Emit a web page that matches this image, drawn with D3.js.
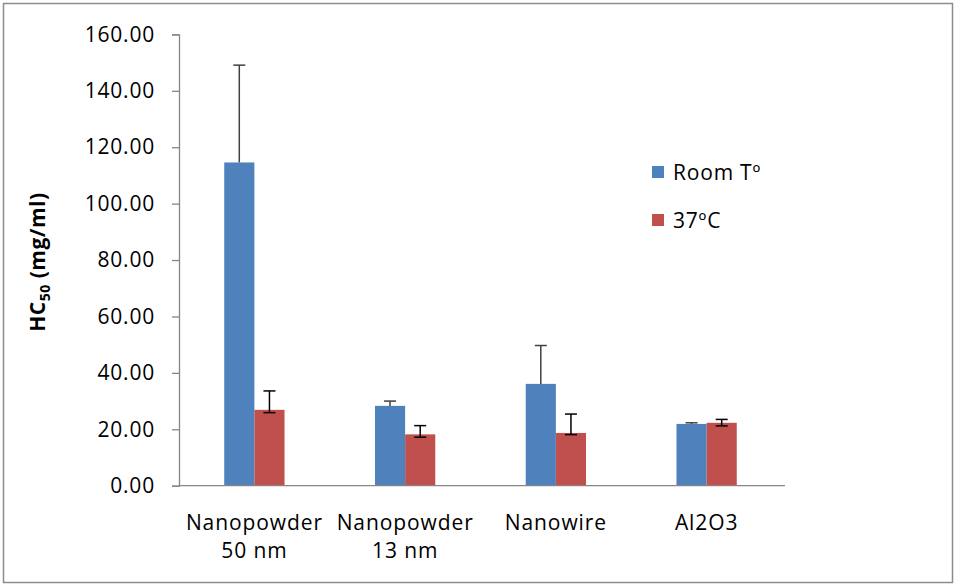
<!DOCTYPE html>
<html>
<head>
<meta charset="utf-8">
<script src="https://cdn.jsdelivr.net/npm/d3@7"></script>
<style>
  body { margin: 0; background: #fff; }
  svg text { font-family: "Open Sans", "Liberation Sans", sans-serif; fill: #000; }
</style>
</head>
<body>
<div id="chart"></div>
<script>
// Data
const categories = [["Nanopowder", "50 nm"], ["Nanopowder", "13 nm"], ["Nanowire"], ["Al2O3"]];
const series = ["Room Tº", "37ºC"];
const roomValues = [114.6, 28.3, 36.1, 21.9];
const roomErrPlus = [34.5, 1.7, 13.6, 0.4];
const warmValues = [26.9, 18.2, 18.7, 22.3];
const warmErrPlus = [6.7, 3.1, 6.7, 1.2];
const warmErrMinus = [1.0, 1.0, 0.6, 1.1];
const yTicks = [0, 20, 40, 60, 80, 100, 120, 140, 160];

const W = 956, H = 586;
const colors = ["#4F81BD", "#C0504D"];
const errColors = ["#404040", "#000000"];

const svg = d3.select("#chart").append("svg")
    .attr("width", W)
    .attr("height", H);

// outer frame
svg.append("rect")
    .attr("x", 3.5).attr("y", 3.5)
    .attr("width", W - 7).attr("height", H - 7)
    .attr("fill", "#fff")
    .attr("stroke", "#8c8c8c")
    .attr("stroke-width", 1.5);

const plotLeft = 179, plotRight = 782, plotTop = 34.4, plotBottom = 485.7;

const y = d3.scaleLinear().domain([0, 160]).range([plotBottom, plotTop]);
const x0 = d3.scaleBand()
    .domain(d3.range(categories.length))
    .range([plotLeft, plotRight])
    .paddingInner(0.6)
    .paddingOuter(0.3);
const x1 = d3.scaleBand().domain([0, 1]).range([0, x0.bandwidth()]);

// y axis
const yAxis = svg.append("g")
    .attr("transform", `translate(${plotLeft},0)`)
    .call(d3.axisLeft(y).tickValues(yTicks).tickSize(7).tickPadding(17).tickFormat(d3.format(".2f")));
yAxis.select(".domain").attr("stroke", "#868686").attr("stroke-width", 1.3);
yAxis.selectAll(".tick line").attr("stroke", "#868686").attr("stroke-width", 1.3);
yAxis.selectAll(".tick text")
    .style("font-size", "21px")
    .style("letter-spacing", "0.8px")
    .attr("fill", "#000");

// y title
const yTitle = svg.append("text")
    .attr("transform", `translate(45,${(plotTop + plotBottom) / 2 + 2}) rotate(-90)`)
    .attr("text-anchor", "middle")
    .style("font-size", "21px")
    .style("font-weight", "bold")
    .style("letter-spacing", "0.5px");
yTitle.append("tspan").text("HC");
yTitle.append("tspan").attr("dy", 5).style("font-size", "14px").text("50");
yTitle.append("tspan").attr("dy", -5).text(" (mg/ml)");

// bars
const rows = categories.map((c, i) => ({
    i,
    vals: [
        { s: 0, v: roomValues[i], plus: roomErrPlus[i], minus: null },
        { s: 1, v: warmValues[i], plus: warmErrPlus[i], minus: warmErrMinus[i] }
    ]
}));

const groups = svg.selectAll(".grp")
    .data(rows)
    .join("g")
    .attr("class", "grp")
    .attr("transform", d => `translate(${x0(d.i)},0)`);

groups.selectAll("rect")
    .data(d => d.vals)
    .join("rect")
    .attr("x", d => x1(d.s))
    .attr("y", d => y(d.v))
    .attr("width", x1.bandwidth())
    .attr("height", d => y(0) - y(d.v))
    .attr("fill", d => colors[d.s]);

// error bars
const err = groups.selectAll(".err")
    .data(d => d.vals)
    .join("g")
    .attr("class", "err")
    .attr("stroke", d => errColors[d.s])
    .attr("stroke-width", 1.5);

const cx = d => x1(d.s) + x1.bandwidth() / 2;
err.append("line")
    .attr("x1", cx).attr("x2", cx)
    .attr("y1", d => y(d.minus == null ? d.v : d.v - d.minus))
    .attr("y2", d => y(d.v + d.plus));
err.append("line")
    .attr("x1", d => cx(d) - 6).attr("x2", d => cx(d) + 6)
    .attr("y1", d => y(d.v + d.plus)).attr("y2", d => y(d.v + d.plus));
err.filter(d => d.minus != null).append("line")
    .attr("x1", d => cx(d) - 6).attr("x2", d => cx(d) + 6)
    .attr("y1", d => y(d.v - d.minus)).attr("y2", d => y(d.v - d.minus));

// x axis line
svg.append("line")
    .attr("x1", plotLeft).attr("x2", plotRight + 3)
    .attr("y1", plotBottom).attr("y2", plotBottom)
    .attr("stroke", "#868686")
    .attr("stroke-width", 1.3);

// category labels
const catLabels = svg.selectAll(".cat")
    .data(rows)
    .join("text")
    .attr("class", "cat")
    .attr("text-anchor", "middle")
    .attr("x", d => x0(d.i) + x0.bandwidth() / 2)
    .attr("y", 530)
    .style("font-size", "21px")
    .style("letter-spacing", "0.9px");
catLabels.selectAll("tspan")
    .data(d => categories[d.i].map(t => ({ t, x: x0(d.i) + x0.bandwidth() / 2 })))
    .join("tspan")
    .attr("x", d => d.x)
    .attr("dy", (d, k) => k === 0 ? 0 : 28)
    .text(d => d.t);

// legend
const legend = svg.append("g").attr("transform", "translate(652,166)");
series.forEach((s, i) => {
    const row = legend.append("g").attr("transform", `translate(0,${i * 48})`);
    row.append("rect")
        .attr("width", 12).attr("height", 12)
        .attr("fill", colors[i]);
    row.append("text")
        .attr("x", 21).attr("y", 14)
        .style("font-size", "21px")
        .style("letter-spacing", "0.8px")
        .text(s);
});
</script>
</body>
</html>
